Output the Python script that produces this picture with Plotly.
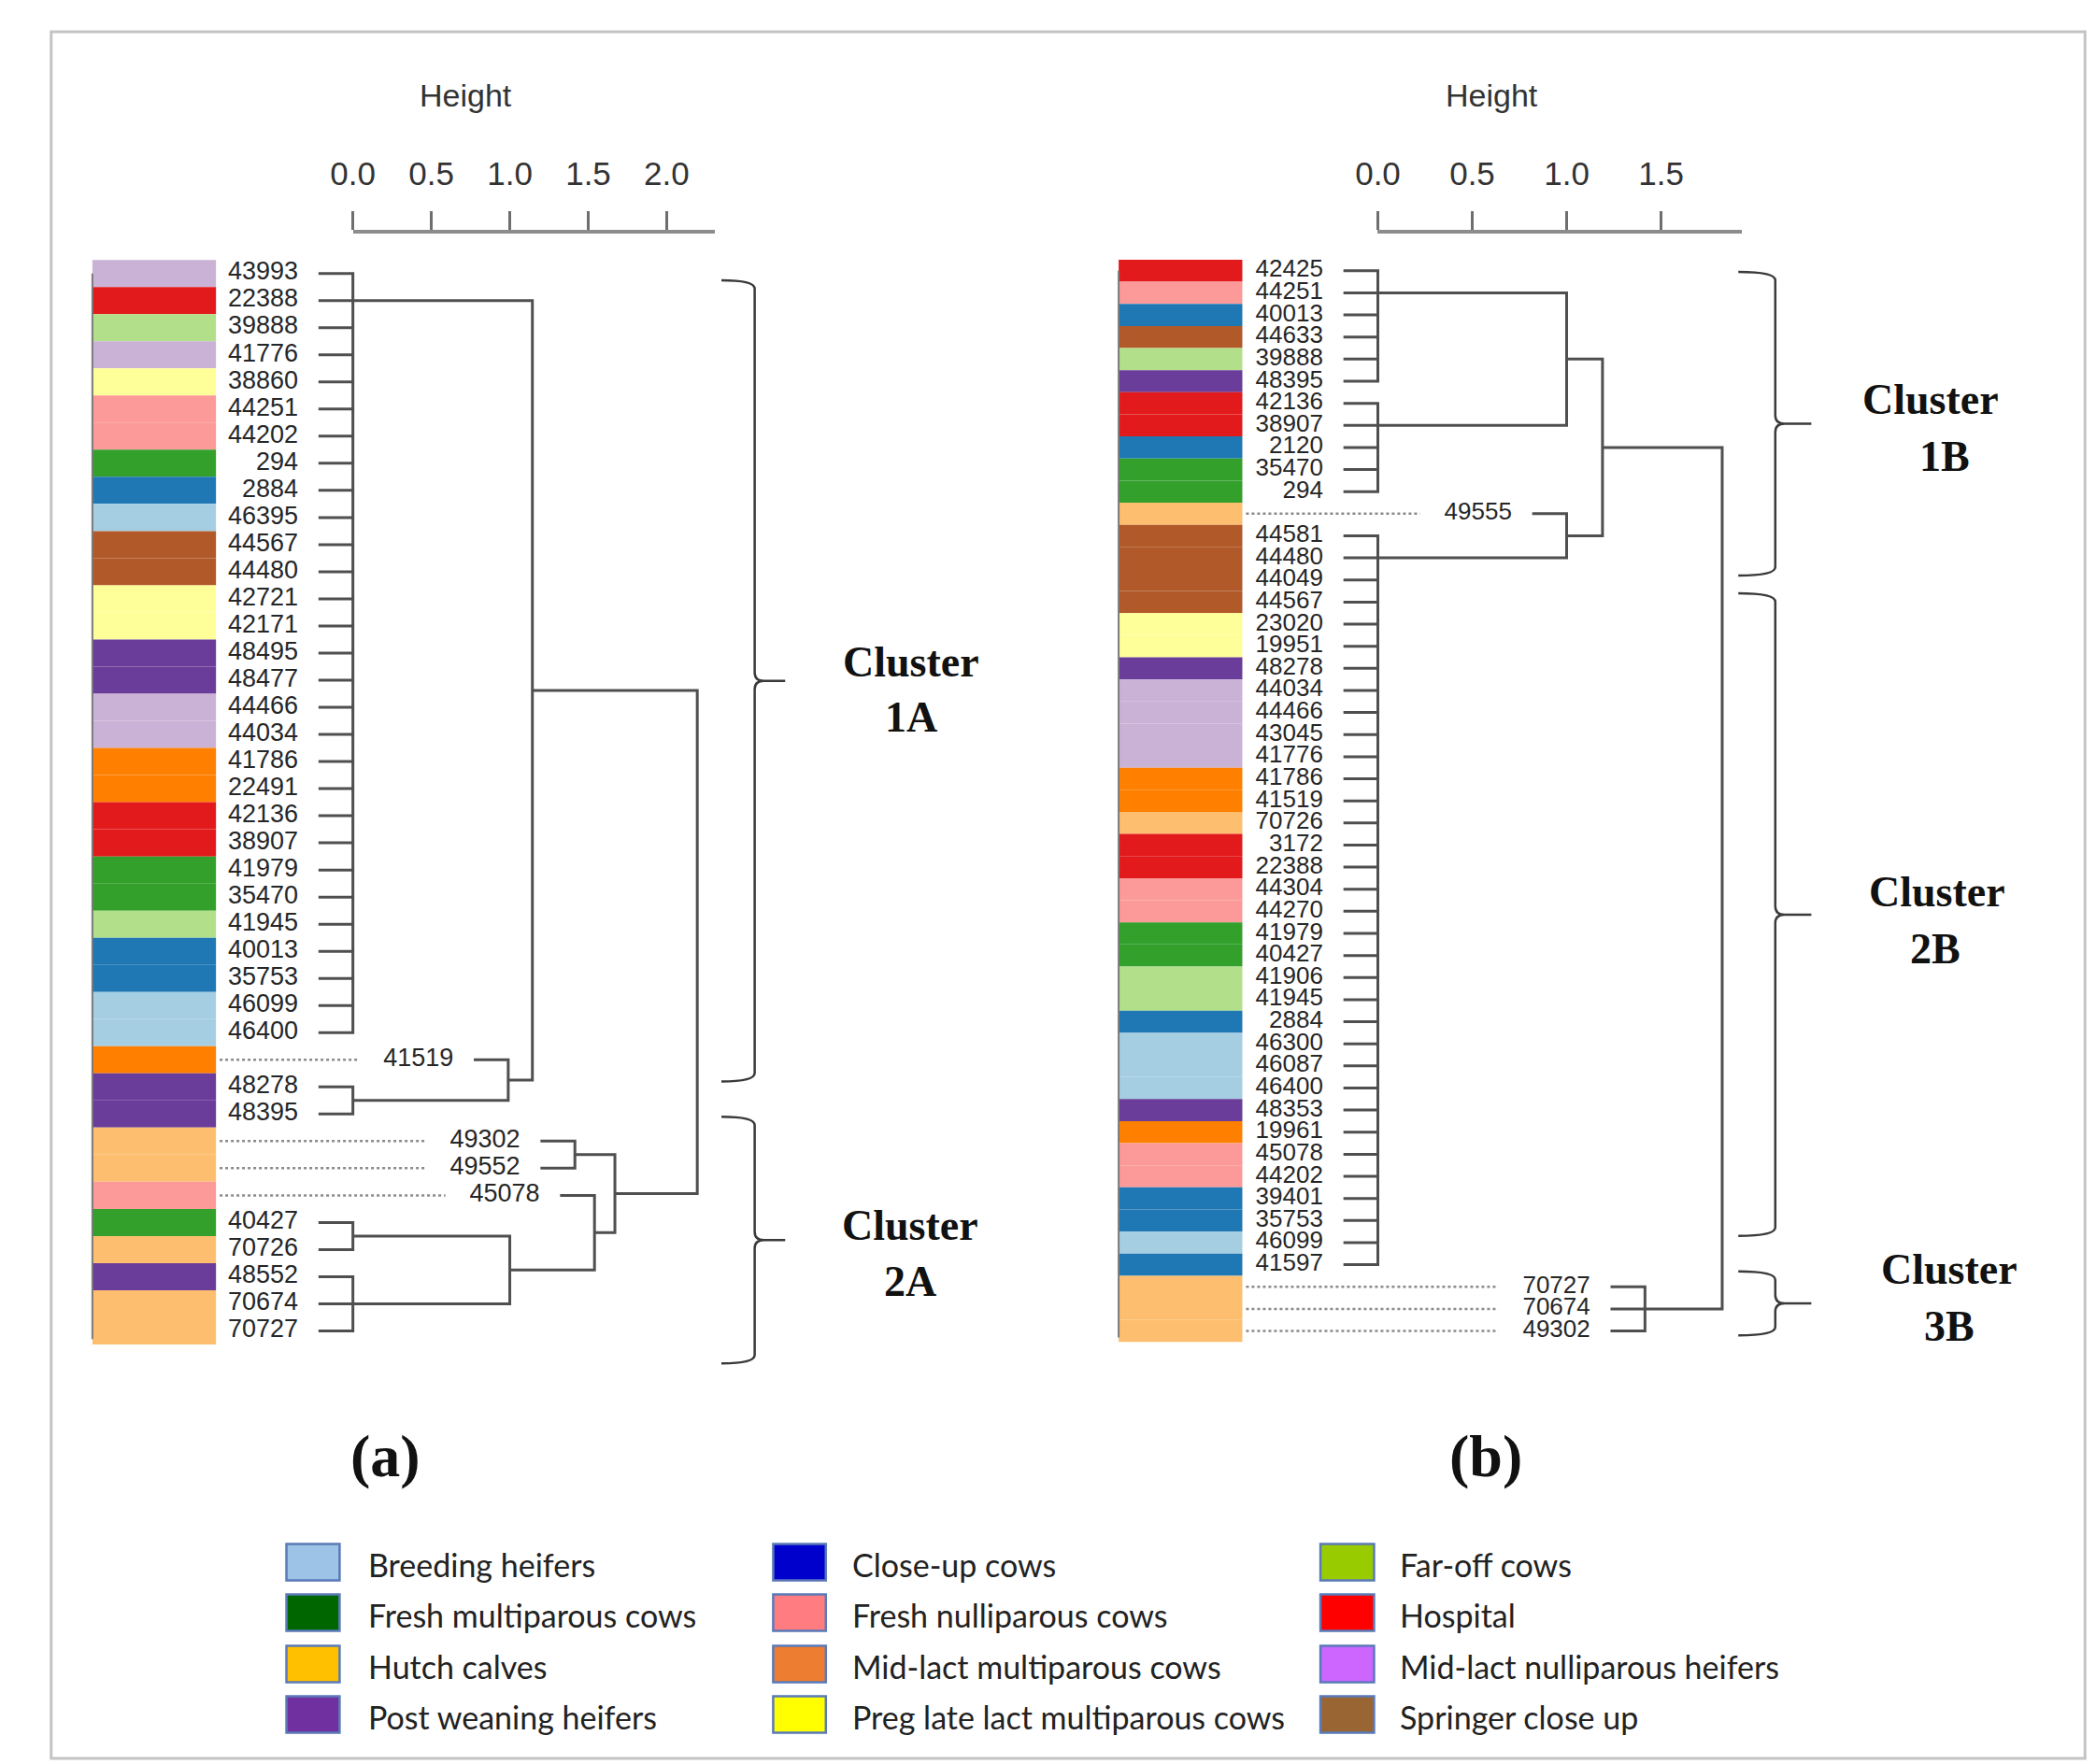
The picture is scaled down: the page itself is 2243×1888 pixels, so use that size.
import plotly.graph_objects as go

W, H = 2243, 1888

# ---------------- data ----------------
categories = ["Breeding heifers", "Close-up cows", "Far-off cows",
              "Fresh multiparous cows", "Fresh nulliparous cows", "Hospital",
              "Hutch calves", "Mid-lact multiparous cows", "Mid-lact nulliparous heifers",
              "Post weaning heifers", "Preg late lact multiparous cows", "Springer close up"]
cat_codes = ["BH", "CU", "FO", "FM", "FN", "HO", "HC", "MM", "MN", "PW", "PL", "SC"]
bar_colors = ["#a6cee3", "#1f78b4", "#b2df8a", "#33a02c", "#fb9a99", "#e31a1c",
              "#fdbf6f", "#ff7f00", "#cab2d6", "#6a3d9a", "#ffff99", "#b15928"]
legend_colors = ["#9dc3e6", "#0000cc", "#99cc00", "#006600", "#ff7c80", "#ff0000",
                 "#ffc000", "#ed7d31", "#cc66ff", "#7030a0", "#ffff00", "#996633"]

left_labels = ["43993", "22388", "39888", "41776", "38860", "44251", "44202", "294", "2884",
               "46395", "44567", "44480", "42721", "42171", "48495", "48477", "44466", "44034",
               "41786", "22491", "42136", "38907", "41979", "35470", "41945", "40013", "35753",
               "46099", "46400", "41519", "48278", "48395", "49302", "49552", "45078", "40427",
               "70726", "48552", "70674", "70727"]
left_groups = ["MN", "HO", "FO", "MN", "PL", "FN", "FN", "FM", "CU", "BH", "SC", "SC", "PL", "PL",
               "PW", "PW", "MN", "MN", "MM", "MM", "HO", "HO", "FM", "FM", "FO", "CU", "CU", "BH",
               "BH", "MM", "PW", "PW", "HC", "HC", "FN", "FM", "HC", "PW", "HC", "HC"]

right_labels = ["42425", "44251", "40013", "44633", "39888", "48395", "42136", "38907", "2120",
                "35470", "294", "49555", "44581", "44480", "44049", "44567", "23020", "19951",
                "48278", "44034", "44466", "43045", "41776", "41786", "41519", "70726", "3172",
                "22388", "44304", "44270", "41979", "40427", "41906", "41945", "2884", "46300",
                "46087", "46400", "48353", "19961", "45078", "44202", "39401", "35753", "46099",
                "41597", "70727", "70674", "49302"]
right_groups = ["HO", "FN", "CU", "SC", "FO", "PW", "HO", "HO", "CU", "FM", "FM", "HC", "SC", "SC",
                "SC", "SC", "PL", "PL", "PW", "MN", "MN", "MN", "MN", "MM", "MM", "HC", "HO", "HO",
                "FN", "FN", "FM", "FM", "FO", "FO", "CU", "BH", "BH", "BH", "PW", "MM", "FN", "FN",
                "CU", "CU", "BH", "CU", "HC", "HC", "HC"]

# dendrogram merges (children are leaf rows, 1-based, or node names)
left_children = {"A": list(range(1, 30)), "C": [31, 32], "B": [30, "C"], "D": ["A", "B"],
                 "E": [33, 34], "F": [36, 37], "G": [38, 39, 40], "H": ["F", "G"],
                 "I": [35, "H"], "J": ["E", "I"], "root": ["D", "J"]}
left_heights = {"A": 0.0, "C": 0.0, "B": 0.99, "D": 1.144, "E": 1.415, "F": 0.0, "G": 0.0,
                "H": 1.0, "I": 1.54, "J": 1.67, "root": 2.195}
left_anchor = {"A": 2}

right_children = {"R1": list(range(1, 7)), "R2": list(range(7, 12)), "S1": ["R1", "R2"],
                  "R3": list(range(13, 47)), "S2": [12, "R3"], "S3": ["S1", "S2"],
                  "R4": [47, 48, 49], "root": ["S3", "R4"]}
right_heights = {"R1": 0.0, "R2": 0.0, "S1": 1.0, "R3": 0.0, "S2": 1.0, "S3": 1.19,
                 "R4": 1.415, "root": 1.824}
right_anchor = {"R1": 2, "R2": 8, "R3": 14}

left_ticks = [0.0, 0.5, 1.0, 1.5, 2.0]
right_ticks = [0.0, 0.5, 1.0, 1.5]

left_clusters = [("Cluster", "1A", 1.25, 30.8), ("Cluster", "2A", 32.1, 41.2)]
right_clusters = [("Cluster", "1B", 1.05, 14.8), ("Cluster", "2B", 15.6, 44.7),
                  ("Cluster", "3B", 46.3, 49.2)]

# ---------------- geometry (pixels) ----------------
panels = [
    dict(labels=left_labels, groups=left_groups, children=left_children, heights=left_heights,
         anchor=left_anchor, ticks=left_ticks, clusters=left_clusters,
         zero_px=349.4, unit_px=169.7, row1_px=284.7, row_px=29.02, bar_px=(67.6, 201.3),
         xdom_px=(30, 1090), axis_max=2.31, title_px=471.7, label_size=27,
         brace_px=(748, 784, 817),
         clabel_px=[((953, 700), (953, 759)), ((952, 1303), (952, 1363))],
         tag="(a)", tag_px=(385, 1550)),
    dict(labels=right_labels, groups=right_groups, children=right_children, heights=right_heights,
         anchor=right_anchor, ticks=right_ticks, clusters=right_clusters,
         zero_px=1458.1, unit_px=204.2, row1_px=281.8, row_px=23.64, bar_px=(1177.7, 1311.5),
         xdom_px=(1100, 2225), axis_max=1.93, title_px=1581.8, label_size=26,
         brace_px=(1848, 1888, 1927),
         clabel_px=[((2056, 420), (2071, 480)), ((2063, 946), (2061, 1007)),
                    ((2076, 1350), (2076, 1411))],
         tag="(b)", tag_px=(1575, 1550)),
]
YDOM_PX = (190, 1480)
AXIS_LINE_PX = 240

LINE_COL = "#4f4f4f"


def fx(px):
    return px / W


def fy(py):
    return 1 - py / H


fig = go.Figure()
shapes = []
annotations = []
layout_axes = {}

for pi, P in enumerate(panels):
    xa = "x" if pi == 0 else "x2"
    ya = "y" if pi == 0 else "y2"
    xkey = "xaxis" if pi == 0 else "xaxis2"
    ykey = "yaxis" if pi == 0 else "yaxis2"
    u = lambda px, P=P: (px - P["zero_px"]) / P["unit_px"]
    rowf = lambda py, P=P: (py - P["row1_px"]) / P["row_px"] + 1
    n = len(P["labels"])
    rows = list(range(1, n + 1))
    hang = 0.1 * P["heights"]["root"]
    label_font = dict(family="Liberation Sans, Arial", size=P["label_size"], color="#262626")

    # tree segments
    xs, ys = [], []
    leaf_start = {}

    def poly(pts):
        for (a, b) in pts:
            xs.append(a)
            ys.append(b)
        xs.append(None)
        ys.append(None)

    def rec(node, P=P, hang=hang):
        h = P["heights"][node]
        ends = []
        for k in P["children"][node]:
            if isinstance(k, int):
                ends.append((h - hang, k))
                leaf_start[k] = (h - hang, h)
            else:
                a, hk = rec(k)
                ends.append((hk, a))
        first, last = ends[0], ends[-1]
        poly([first, (h, first[1]), (h, last[1]), last])
        for e in ends[1:-1]:
            poly([e, (h, e[1])])
        anc = P["anchor"].get(node, (first[1] + last[1]) / 2)
        return anc, h

    rec("root")

    # color bar
    bl, br = u(P["bar_px"][0]), u(P["bar_px"][1])
    cols = [bar_colors[cat_codes.index(g)] for g in P["groups"]]
    fig.add_trace(go.Bar(orientation="h", y=rows, x=[br - bl] * n, base=[bl] * n, width=1.0,
                         marker=dict(color=cols, line=dict(width=0)), xaxis=xa, yaxis=ya,
                         hoverinfo="skip", showlegend=False))
    fig.add_trace(go.Scatter(x=[bl, bl], y=[1, n + 0.3], mode="lines",
                             line=dict(color="#7a7a7a", width=2), xaxis=xa, yaxis=ya,
                             hoverinfo="skip", showlegend=False))

    fig.add_trace(go.Scatter(x=xs, y=ys, mode="lines", line=dict(color=LINE_COL, width=3),
                             xaxis=xa, yaxis=ya, hoverinfo="skip", showlegend=False))

    # leaf labels and dotted leaders
    lab_x, dx, dy = [], [], []
    for r in rows:
        s, ph = leaf_start[r]
        right_edge = s - 22 / P["unit_px"]
        lab_x.append(right_edge)
        if ph > 0:
            width_px = len(P["labels"][r - 1]) * 0.556 * P["label_size"]
            end = right_edge - (width_px + 27) / P["unit_px"]
            dx += [br + 4 / P["unit_px"], end, None]
            dy += [r, r, None]
    fig.add_trace(go.Scatter(x=dx, y=dy, mode="lines",
                             line=dict(color="#8a8a8a", width=2.5, dash="dot"),
                             xaxis=xa, yaxis=ya, hoverinfo="skip", showlegend=False))
    fig.add_trace(go.Scatter(x=lab_x, y=rows, mode="text", text=P["labels"],
                             textposition="middle left", textfont=label_font,
                             xaxis=xa, yaxis=ya, hoverinfo="skip", showlegend=False))

    # axes for dendrogram panel
    layout_axes[xkey] = dict(domain=[fx(P["xdom_px"][0]), fx(P["xdom_px"][1])],
                             range=[u(P["xdom_px"][0]), u(P["xdom_px"][1])], visible=False,
                             anchor=ya, fixedrange=True)
    layout_axes[ykey] = dict(domain=[fy(YDOM_PX[1]), fy(YDOM_PX[0])],
                             range=[rowf(YDOM_PX[1]), rowf(YDOM_PX[0])], visible=False,
                             anchor=xa, fixedrange=True)

    # height axis (ticks on top)
    tkey = "xaxis3" if pi == 0 else "xaxis4"
    tx = "x3" if pi == 0 else "x4"
    layout_axes[tkey] = dict(
        domain=[fx(P["zero_px"]), fx(P["zero_px"] + P["axis_max"] * P["unit_px"])],
        range=[0, P["axis_max"]], anchor="free", position=fy(AXIS_LINE_PX), side="top",
        showline=True, linecolor="#8c8c8c", linewidth=4, ticks="outside", ticklen=20,
        tickwidth=3, tickcolor="#6e6e6e", tickvals=P["ticks"],
        ticktext=[f"{t:.1f}" for t in P["ticks"]], ticklabelstandoff=14,
        tickfont=dict(family="Liberation Sans, Arial", size=35, color="#333333"),
        showgrid=False, zeroline=False, fixedrange=True)
    fig.add_trace(go.Scatter(x=[0], y=[1], mode="markers", marker=dict(opacity=0),
                             xaxis=tx, yaxis=ya, hoverinfo="skip", showlegend=False))

    annotations.append(dict(x=fx(P["title_px"]), y=fy(93.5), xref="paper", yref="paper",
                            text="Height", showarrow=False, xanchor="center", yanchor="middle",
                            font=dict(family="Liberation Sans, Arial", size=34, color="#333333")))

    # braces and cluster labels
    bxa, bxv, bxt = (u(v) for v in P["brace_px"])
    rr = 9 / P["row_px"]
    cx = 10 / P["unit_px"]
    for ci, (c1, c2, r0, r1) in enumerate(P["clusters"]):
        rm = (r0 + r1) / 2
        path = (f"M {bxa},{r0} Q {bxv},{r0} {bxv},{r0 + rr} L {bxv},{rm - rr} "
                f"Q {bxv},{rm} {bxv + cx},{rm} L {bxt},{rm} M {bxv + cx},{rm} "
                f"Q {bxv},{rm} {bxv},{rm + rr} L {bxv},{r1 - rr} Q {bxv},{r1} {bxa},{r1}")
        shapes.append(dict(type="path", path=path, xref=xa, yref=ya,
                           line=dict(color="#3a3a3a", width=2.5)))
        (p1, p2) = P["clabel_px"][ci]
        for txt, (ppx, ppy) in ((c1, p1), (c2, p2)):
            annotations.append(dict(x=fx(ppx), y=fy(ppy), xref="paper", yref="paper", text=f"<b>{txt}</b>",
                                    showarrow=False, xanchor="center", yanchor="middle",
                                    font=dict(family="Liberation Serif, Times New Roman", size=46,
                                              color="#111111")))
    annotations.append(dict(x=fx(P["tag_px"][0]), y=fy(P["tag_px"][1]), xref="paper", yref="paper",
                            text=f"<b>{P['tag']}</b>", showarrow=False, xanchor="center",
                            yanchor="middle",
                            font=dict(family="Liberation Serif, Times New Roman", size=64,
                                      color="#111111")))

# ---------------- legend ----------------
leg_box_x = [(277.5, 335), (804, 861), (1396, 1454)]
leg_text_x = [364, 888, 1480]
leg_row_y = [1664, 1718, 1773, 1827]
for i, (name, col) in enumerate(zip(categories, legend_colors)):
    r, c = divmod(i, 3)
    yc = leg_row_y[r]
    shapes.append(dict(type="rect", xref="paper", yref="paper",
                       x0=fx(leg_box_x[c][0]), x1=fx(leg_box_x[c][1]),
                       y0=fy(yc + 19.5), y1=fy(yc - 19.5), fillcolor=col,
                       line=dict(color="#5a7ab8", width=2.5)))
    annotations.append(dict(x=fx(leg_text_x[c]), y=fy(yc + 2), xref="paper", yref="paper",
                            text=name, showarrow=False, xanchor="left", yanchor="middle",
                            font=dict(family="Lato, Open Sans", size=34, color="#222222")))

# outer border
shapes.append(dict(type="rect", xref="paper", yref="paper", x0=fx(23), x1=fx(2223),
                   y0=fy(1874), y1=fy(26), line=dict(color="#c4c4c4", width=3),
                   fillcolor="rgba(0,0,0,0)"))

fig.update_layout(width=W, height=H, margin=dict(l=0, r=0, t=0, b=0),
                  paper_bgcolor="white", plot_bgcolor="rgba(0,0,0,0)", showlegend=False,
                  shapes=shapes, annotations=annotations, **layout_axes)

fig.write_html("out.html")
